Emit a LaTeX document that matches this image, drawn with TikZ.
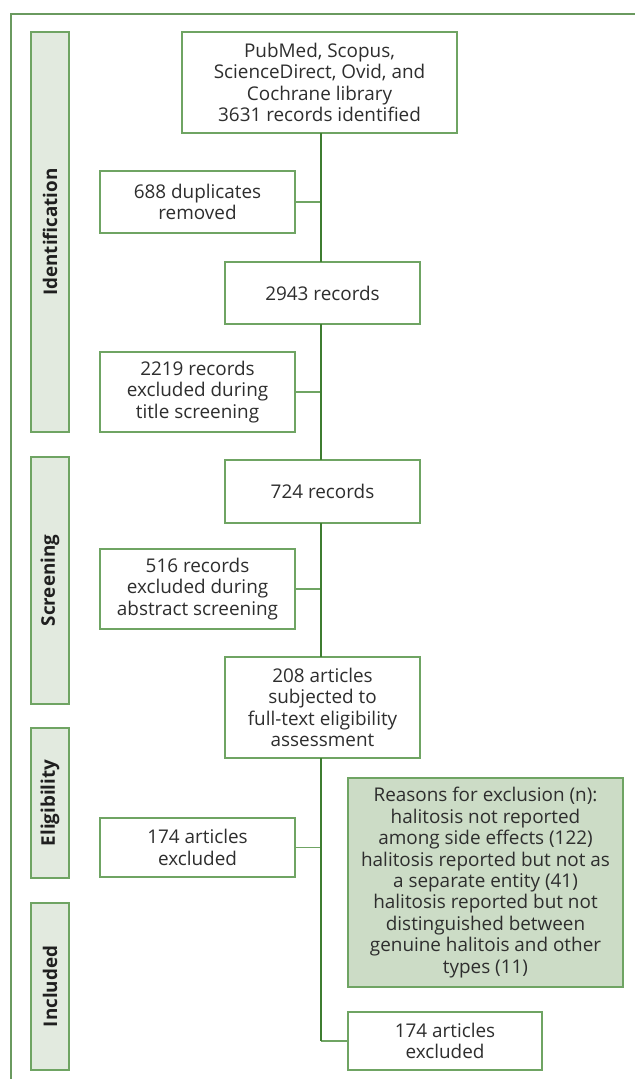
\documentclass[tikz,border=0pt]{standalone}
\usepackage{fontspec}
\setmainfont{Open Sans}
\definecolor{boxline}{HTML}{6FA463}
\definecolor{spineline}{HTML}{3E7D30}
\definecolor{barfill}{HTML}{E2EADF}
\definecolor{greenfill}{HTML}{CCDCC6}
\definecolor{txt}{HTML}{2E2E2E}
\definecolor{frameline}{HTML}{6A9A5F}
\begin{document}
\begin{tikzpicture}[x=1pt,y=-1pt,
  every node/.style={inner sep=0pt,outer sep=0pt},
  flowbox/.style={draw=boxline,line width=1.4pt,fill=white,align=center,text=txt,
    font=\fontsize{18.9}{21.4}\selectfont},
  stagebar/.style={draw=boxline,line width=1.4pt,fill=barfill,minimum width=38pt},
  stagelabel/.style={rotate=90,font=\bfseries\fontsize{18.8}{20}\selectfont,text=black!88},
  spine/.style={draw=spineline,line width=2pt},
  branch/.style={draw=boxline,line width=1.5pt}]
\useasboundingbox (0,0) rectangle (635,1079);
% outer frame
\draw[frameline,line width=1.3pt] (11,1079) -- (11,14) -- (635,14);
% stage bars
\node[stagebar,minimum height=400pt] (bid) at (50,232) {};
\node[stagelabel] (lid) at (bid.center) {Identification};
\node[stagebar,minimum height=247pt] (bsc) at (50,580.5) {};
\node[stagelabel] (lsc) at (bsc.center) {Screening};
\node[stagebar,minimum height=150pt] (bel) at (50,803) {};
\node[stagelabel] (lel) at (bel.center) {Eligibility};
\node[stagebar,minimum height=167pt] (bin) at (50,986.5) {};
\node[stagelabel] (lin) at (bin.center) {Included};
% boxes
\node[flowbox,minimum width=275pt,minimum height=101pt] (top) at (319.5,82.5)
  {PubMed, Scopus,\\ScienceDirect, Ovid, and\\Cochrane library\\3631 records identified};
\node[flowbox,minimum width=195pt,minimum height=62pt] (dup) at (197.5,202)
  {688 duplicates\\removed};
\node[flowbox,minimum width=195pt,minimum height=62pt] (r2943) at (322.5,293)
  {2943 records};
\node[flowbox,minimum width=195pt,minimum height=80pt] (r2219) at (197.5,392)
  {2219 records\\excluded during\\title screening};
\node[flowbox,minimum width=195pt,minimum height=63pt] (r724) at (322.5,491.5)
  {724 records};
\node[flowbox,minimum width=195pt,minimum height=80pt] (r516) at (197.5,589)
  {516 records\\excluded during\\abstract screening};
\node[flowbox,minimum width=195pt,minimum height=101pt] (r208) at (322.5,707.5)
  {208 articles\\subjected to\\full-text eligibility\\assessment};
\node[flowbox,minimum width=195pt,minimum height=59pt] (r174) at (197.5,847.5)
  {174 articles\\excluded};
\node[flowbox,fill=greenfill,minimum width=275pt,minimum height=209pt] (why) at (485.5,882.5)
  {Reasons for exclusion (n):\\halitosis not reported\\among side effects (122)\\halitosis reported but not as\\a separate entity (41)\\halitosis reported but not\\distinguished between\\genuine halitois and other\\types (11)};
\node[flowbox,minimum width=194pt,minimum height=58pt] (final) at (445,1041)
  {174 articles\\excluded};
% spine
\coordinate (sp) at (321,0);
\coordinate (bend) at (321,1041);
\draw[branch] (dup.east) -- (dup.east -| sp);
\draw[branch] (r2219.east) -- (r2219.east -| sp);
\draw[branch] (r516.east) -- (r516.east -| sp);
\draw[branch] (r174.east) -- (r174.east -| sp);
\draw[branch] (bend) -- (final.west);
\draw[spine] (top.south -| sp) -- (r2943.north -| sp);
\draw[spine] (r2943.south -| sp) -- (r724.north -| sp);
\draw[spine] (r724.south -| sp) -- (r208.north -| sp);
\draw[spine] (r208.south -| sp) -- (bend);
\end{tikzpicture}
\end{document}
